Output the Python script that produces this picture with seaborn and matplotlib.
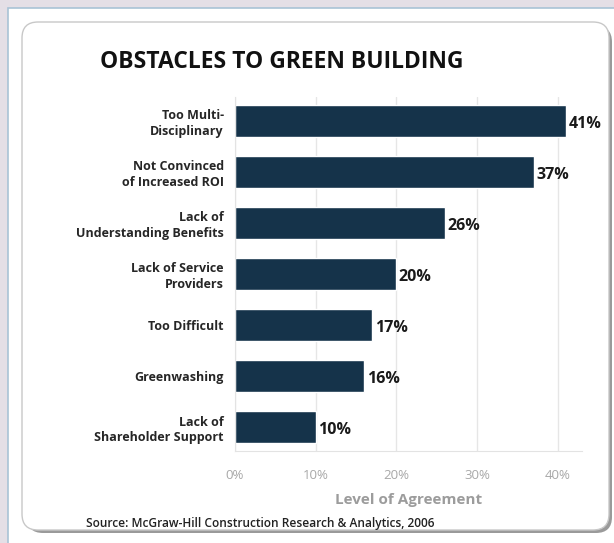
import matplotlib
matplotlib.use("Agg")
import matplotlib.pyplot as plt
import seaborn as sns
import pandas as pd
from matplotlib.patches import FancyBboxPatch, Rectangle

categories = ["Too Multi-\nDisciplinary", "Not Convinced\nof Increased ROI",
              "Lack of\nUnderstanding Benefits", "Lack of Service\nProviders",
              "Too Difficult", "Greenwashing", "Lack of\nShareholder Support"]
agreement = [41, 37, 26, 20, 17, 16, 10]
xticks = [0, 10, 20, 30, 40]
xtick_labels = ["0%", "10%", "20%", "30%", "40%"]

df = pd.DataFrame({"obstacle": categories, "pct": agreement})

sns.set_style("white")
plt.rcParams["font.family"] = ["Open Sans", "DejaVu Sans"]

fig = plt.figure(figsize=(6.14, 5.43), dpi=100)
fig.patch.set_facecolor("#e4dfe6")

# white panel with thin blue edge, then the rounded card with a shadow
fig.patches.append(Rectangle((8, -5), 620, 543 - 8 + 5, transform=None,
                             facecolor="white", edgecolor="#a9c3d6", lw=1.2, zorder=-3))
fig.patches.append(FancyBboxPatch((27, 10), 585, 507, boxstyle="round,pad=0,rounding_size=16",
                                  transform=None, facecolor="#9a9a9a", edgecolor="none", zorder=-2))
fig.patches.append(FancyBboxPatch((22, 13), 587, 508, boxstyle="round,pad=0,rounding_size=16",
                                  transform=None, facecolor="white", edgecolor="#c8c8c8", lw=1, zorder=-1))

ax = fig.add_axes([235 / 614, 1 - 451 / 543, (582 - 235) / 614, (451 - 97) / 543])
ax.set_facecolor("none")
sns.barplot(data=df, x="pct", y="obstacle", orient="h", color="#15334a",
            width=0.63, saturation=1, ax=ax)

ax.set_xlim(0, 43)
ax.set_ylim(6.47, -0.47)
ax.set_xticks(xticks)
ax.set_xticklabels(xtick_labels, color="#a8a8a8", fontsize=9.5)
ax.xaxis.grid(True, color="#e6e6e6", lw=1)
ax.set_axisbelow(True)
for s in ["top", "right"]:
    ax.spines[s].set_visible(False)
ax.spines["bottom"].set_color("#e3e3e3")
ax.spines["left"].set_color("#e3e3e3")
ax.tick_params(axis="x", length=4, color="#e3e3e3", pad=9)
ax.tick_params(axis="y", length=0, pad=8)
for lbl in ax.get_yticklabels():
    lbl.set_fontweight("bold")
    lbl.set_fontsize(9)
    lbl.set_horizontalalignment("right")
    lbl.set_linespacing(1.25)

for i, v in enumerate(agreement):
    ax.text(v + 0.3, i + 0.05, f"{v}%", va="center", ha="left",
            fontsize=11.5, fontweight="bold", color="#1a1a1a")

ax.set_ylabel("")
ax.set_xlabel("Level of Agreement", color="#9c9c9c", fontsize=11,
              fontweight="bold", labelpad=8)

fig.text(100 / 614, 1 - 62 / 543, "OBSTACLES TO GREEN BUILDING", fontsize=16.5,
         fontweight="bold", va="center", ha="left", color="#111111")
fig.text(86 / 614, 1 - 523 / 543, "Source: McGraw-Hill Construction Research & Analytics, 2006",
         fontsize=8.6, va="center", ha="left", color="#222222", fontweight="semibold")

fig.savefig("out.png", dpi=100)
